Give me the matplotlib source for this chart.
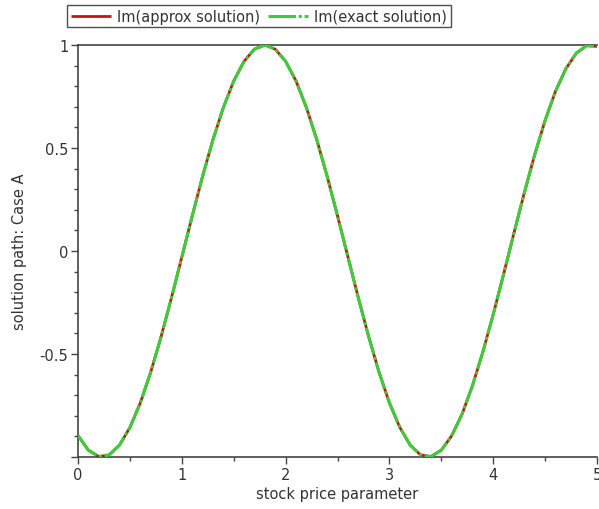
import matplotlib
matplotlib.use("Agg")
import matplotlib.pyplot as plt
from matplotlib.ticker import MultipleLocator, FixedLocator

# stock price parameter (x), sampled at 0.1 steps
x_vals = [0.0, 0.1, 0.2, 0.3, 0.4, 0.5, 0.6, 0.7, 0.8, 0.9,
          1.0, 1.1, 1.2, 1.3, 1.4, 1.5, 1.6, 1.7, 1.8, 1.9,
          2.0, 2.1, 2.2, 2.3, 2.4, 2.5, 2.6, 2.7, 2.8, 2.9,
          3.0, 3.1, 3.2, 3.3, 3.4, 3.5, 3.6, 3.7, 3.8, 3.9,
          4.0, 4.1, 4.2, 4.3, 4.4, 4.5, 4.6, 4.7, 4.8, 4.9, 5.0]

# Im(exact solution)
exact_vals = [-0.896, -0.967, -0.998, -0.990, -0.942, -0.857, -0.738, -0.589, -0.417, -0.228,
              -0.030, 0.169, 0.362, 0.540, 0.696, 0.825, 0.921, 0.980, 1.000, 0.980,
              0.921, 0.826, 0.697, 0.541, 0.363, 0.171, -0.028, -0.226, -0.415, -0.588,
              -0.737, -0.856, -0.942, -0.990, -0.998, -0.967, -0.897, -0.792, -0.654, -0.491,
              -0.308, -0.113, 0.087, 0.283, 0.468, 0.634, 0.775, 0.885, 0.960, 0.997, 0.993]

# Im(approx solution) coincides with the exact one
approx_vals = list(exact_vals)

series_labels = ["Im(approx solution)", "Im(exact solution)"]
x_ticks = [0, 1, 2, 3, 4, 5]
y_ticks = [-1, -0.5, 0, 0.5, 1]
y_tick_labels = ["", "-0.5", "0", "0.5", "1"]
x_label = "stock price parameter"
y_label = "solution path: Case A"

W, H = 599, 510
fig = plt.figure(figsize=(W / 100, H / 100), dpi=100)
left, right, top, bottom = 78, 597, 46, 458
ax = fig.add_axes([left / W, 1 - bottom / H, (right - left) / W, (bottom - top) / H])

text_color = "#333333"
red = "#d01010"
green = "#3ccc3c"

l1, = ax.plot(x_vals, approx_vals, color=red, lw=2.0, solid_capstyle="butt", zorder=2)
l2, = ax.plot(x_vals, exact_vals, color=green, lw=2.2, zorder=3,
              dashes=(9, 0.9, 1.0, 0.9))

ax.set_xlim(0, 5)
ax.set_ylim(-1, 1)

for s in ["left", "bottom", "top"]:
    ax.spines[s].set_color("#444444")
    ax.spines[s].set_linewidth(1.2)
ax.spines["right"].set_visible(False)

ax.xaxis.set_major_locator(FixedLocator(x_ticks))
ax.xaxis.set_minor_locator(MultipleLocator(0.5))
ax.yaxis.set_major_locator(FixedLocator(y_ticks))
ax.set_yticklabels(y_tick_labels)
ax.yaxis.set_minor_locator(MultipleLocator(0.1))
ax.tick_params(axis="both", which="major", direction="out", length=5, width=1,
               color="#444444", labelsize=10.5, labelcolor=text_color, pad=2)
ax.tick_params(axis="both", which="minor", direction="out", length=3, width=1,
               color="#444444")
ax.tick_params(axis="x", top=False)

ax.set_xlabel(x_label, fontsize=10.5, color=text_color, labelpad=3)
ax.set_ylabel(y_label, fontsize=10.5, color=text_color, labelpad=9)

leg = fig.legend([l1, l2], series_labels, loc="upper left",
                 bbox_to_anchor=(67 / W, 1 - 6 / H), ncol=2, frameon=True,
                 fancybox=False, edgecolor="#222222", fontsize=10.5,
                 handlelength=2.8, handletextpad=0.4, columnspacing=0.5,
                 borderpad=0.25, borderaxespad=0)
for t in leg.get_texts():
    t.set_color(text_color)
leg.get_frame().set_linewidth(1.0)

fig.savefig("out.png", dpi=100)
